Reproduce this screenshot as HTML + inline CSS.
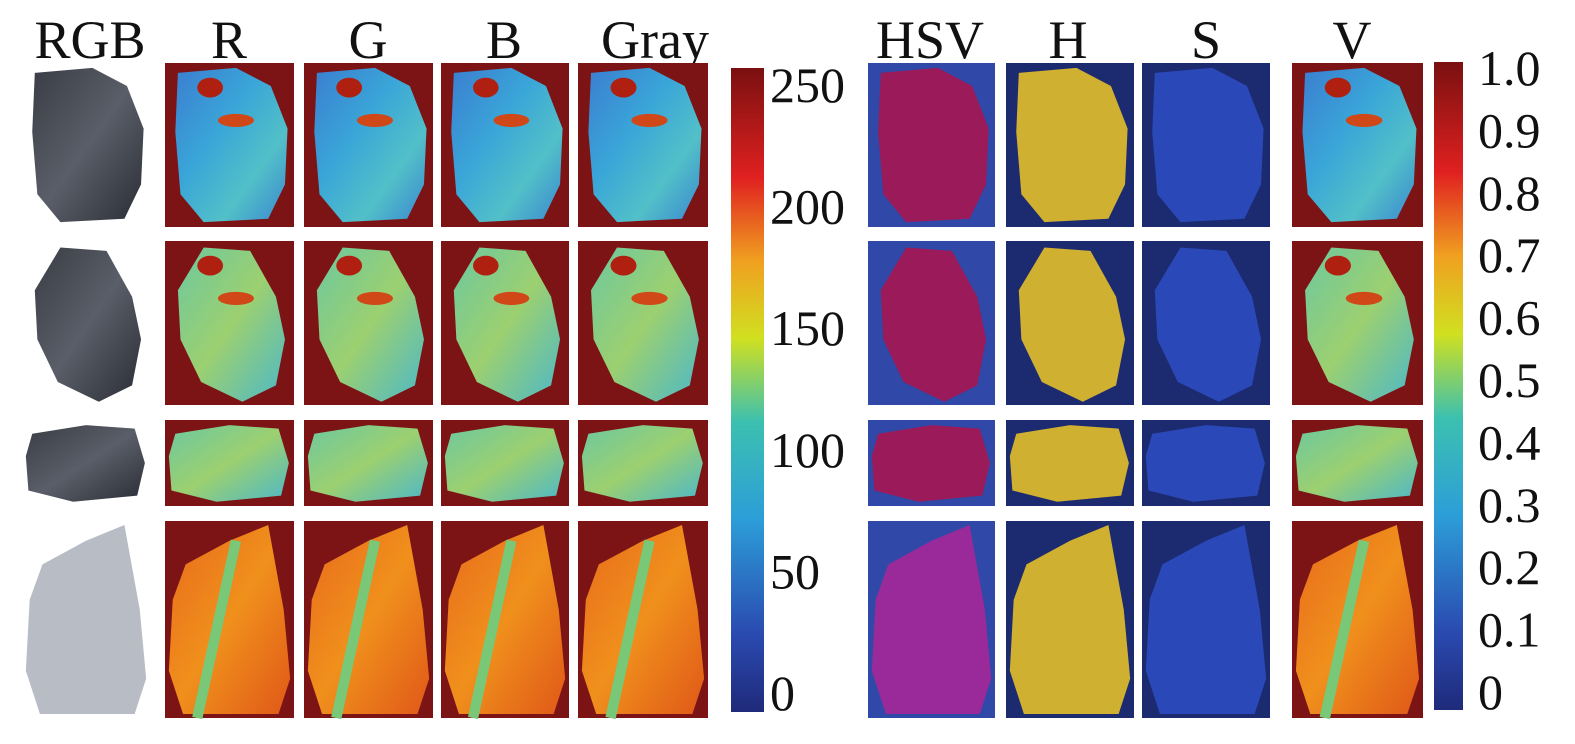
<!DOCTYPE html>
<html><head><meta charset="utf-8"><style>
html,body{margin:0;padding:0;background:#fff;}
svg{display:block;font-family:"Liberation Serif",serif;}
</style></head><body>
<svg id="fig" width="1575" height="744" viewBox="0 0 1575 744">
<defs>
<linearGradient id="jet" x1="0" y1="1" x2="0" y2="0">
<stop offset="0" stop-color="#1f2a7a"/><stop offset="0.12" stop-color="#2a4ab0"/>
<stop offset="0.3" stop-color="#2c9ed8"/><stop offset="0.45" stop-color="#3cc0b0"/>
<stop offset="0.58" stop-color="#d0e020"/><stop offset="0.7" stop-color="#f0a020"/>
<stop offset="0.83" stop-color="#e02020"/><stop offset="1" stop-color="#7a1010"/>
</linearGradient>
<linearGradient id="cool" x1="0" y1="0" x2="1" y2="1">
<stop offset="0" stop-color="#3b7ed0"/><stop offset="0.4" stop-color="#3aa6d8"/>
<stop offset="0.7" stop-color="#52c0c8"/><stop offset="1" stop-color="#3a86d0"/>
</linearGradient>
<linearGradient id="cool2" x1="0" y1="0" x2="1" y2="1">
<stop offset="0" stop-color="#6cc8a0"/><stop offset="0.5" stop-color="#9cd070"/>
<stop offset="1" stop-color="#4cb8c8"/>
</linearGradient>
<linearGradient id="warm" x1="0" y1="0" x2="1" y2="1">
<stop offset="0" stop-color="#e86a1c"/><stop offset="0.5" stop-color="#f0901c"/>
<stop offset="1" stop-color="#e05818"/>
</linearGradient>
<linearGradient id="rock" x1="0" y1="0" x2="1" y2="1">
<stop offset="0" stop-color="#3a3d45"/><stop offset="0.5" stop-color="#5a5e68"/><stop offset="1" stop-color="#2a2d35"/>
</linearGradient>
</defs>
</svg>
<script>
const NS="http://www.w3.org/2000/svg";
const svg=document.getElementById('fig');
const leftTicks=[0,50,100,150,200,250];
const rightTicks=["0","0.1","0.2","0.3","0.4","0.5","0.6","0.7","0.8","0.9","1.0"];
const headers=[["RGB",90],["R",229],["G",368],["B",504],["Gray",655],["HSV",930],["H",1068],["S",1206],["V",1352]];
function mk(t,a){const e=document.createElementNS(NS,t);for(const k in a)e.setAttribute(k,a[k]);svg.appendChild(e);return e;}
headers.forEach(h=>{const e=mk('text',{x:h[1],y:58,'font-size':54,'text-anchor':'middle',fill:'#111'});e.textContent=h[0];

});
const rows=[[63,227],[241,405],[420,506],[521,718]];
const shapes=["10,6 55,3 82,14 95,40 93,74 80,95 30,97 12,80 8,42","30,4 66,6 86,34 93,60 86,88 60,98 28,86 12,60 10,30","8,16 50,6 88,10 96,50 90,88 40,95 5,82 3,42","16,22 50,10 80,2 92,45 97,80 88,98 14,98 3,76 6,40"];
const leftCols=[[165,294],[304,433],[441,569],[578,708]];
const rightCols=[[868,995],[1006,1134],[1142,1270],[1292,1423]];
function panel(x0,x1,r,bg,fill,name){
 const [y0,y1]=rows[r];const w=x1-x0,h=y1-y0;
 const g=document.createElementNS(NS,'g');svg.appendChild(g);
 
 
 if(bg){const b=document.createElementNS(NS,'rect');b.setAttribute('x',x0);b.setAttribute('y',y0);b.setAttribute('width',w);b.setAttribute('height',h);b.setAttribute('fill',bg);g.appendChild(b);}
 const pts=shapes[r].split(' ').map(p=>{const [a,c]=p.split(',').map(Number);return (x0+a*w/100)+','+(y0+c*h/100);}).join(' ');
 const p=document.createElementNS(NS,'polygon');p.setAttribute('points',pts);p.setAttribute('fill',fill);g.appendChild(p);
 if(r==3&&fill==='url(#warm)'){const l=document.createElementNS(NS,'line');l.setAttribute('x1',x0+0.55*w);l.setAttribute('y1',y0+0.1*h);l.setAttribute('x2',x0+0.25*w);l.setAttribute('y2',y1);l.setAttribute('stroke','#78c878');l.setAttribute('stroke-width',w*0.08);g.appendChild(l);}
 if(r<2&&(fill==='url(#cool)'||fill==='url(#cool2)')){const c=document.createElementNS(NS,'ellipse');c.setAttribute('cx',x0+0.35*w);c.setAttribute('cy',y0+0.15*h);c.setAttribute('rx',w*0.1);c.setAttribute('ry',h*0.06);c.setAttribute('fill','#b02010');g.appendChild(c);
 const c2=document.createElementNS(NS,'ellipse');c2.setAttribute('cx',x0+0.55*w);c2.setAttribute('cy',y0+0.35*h);c2.setAttribute('rx',w*0.14);c2.setAttribute('ry',h*0.04);c2.setAttribute('fill','#d04818');g.appendChild(c2);}
}
const names=['r','g','b','gray'];
for(let r=0;r<4;r++){
 panel(22,150,r,null,r==3?'#b8bcc4':'url(#rock)','rgb-image-row'+(r+1));
 const f=r==3?'url(#warm)':(r==0?'url(#cool)':'url(#cool2)');
 leftCols.forEach((c,i)=>panel(c[0],c[1],r,'#7c1416',f,names[i]+'-panel-row'+(r+1)));
 panel(rightCols[0][0],rightCols[0][1],r,'#3048a8',r==3?'#9a2a9a':'#9a1a5a','hsv-panel-row'+(r+1));
 panel(rightCols[1][0],rightCols[1][1],r,'#1c2a70','#d0b030','h-panel-row'+(r+1));
 panel(rightCols[2][0],rightCols[2][1],r,'#1c2a70','#2a48b8','s-panel-row'+(r+1));
 panel(rightCols[3][0],rightCols[3][1],r,'#7c1416',f,'v-panel-row'+(r+1));
}
const cb1=mk('rect',{x:731,y:68,width:33,height:644,fill:'url(#jet)'});


const cb2=mk('rect',{x:1434,y:62,width:29,height:648,fill:'url(#jet)'});


function yl(v){return 693-(v/250)*(693-85);}
leftTicks.forEach(v=>{const t=mk('text',{x:770,y:yl(v)+17,'font-size':50,fill:'#111'});t.textContent=v;

});
function yr(v){return 692-v*(692-68);}
rightTicks.forEach(v=>{const t=mk('text',{x:1478,y:yr(parseFloat(v))+17,'font-size':50,fill:'#111'});t.textContent=v;

});
</script>
</body></html>
